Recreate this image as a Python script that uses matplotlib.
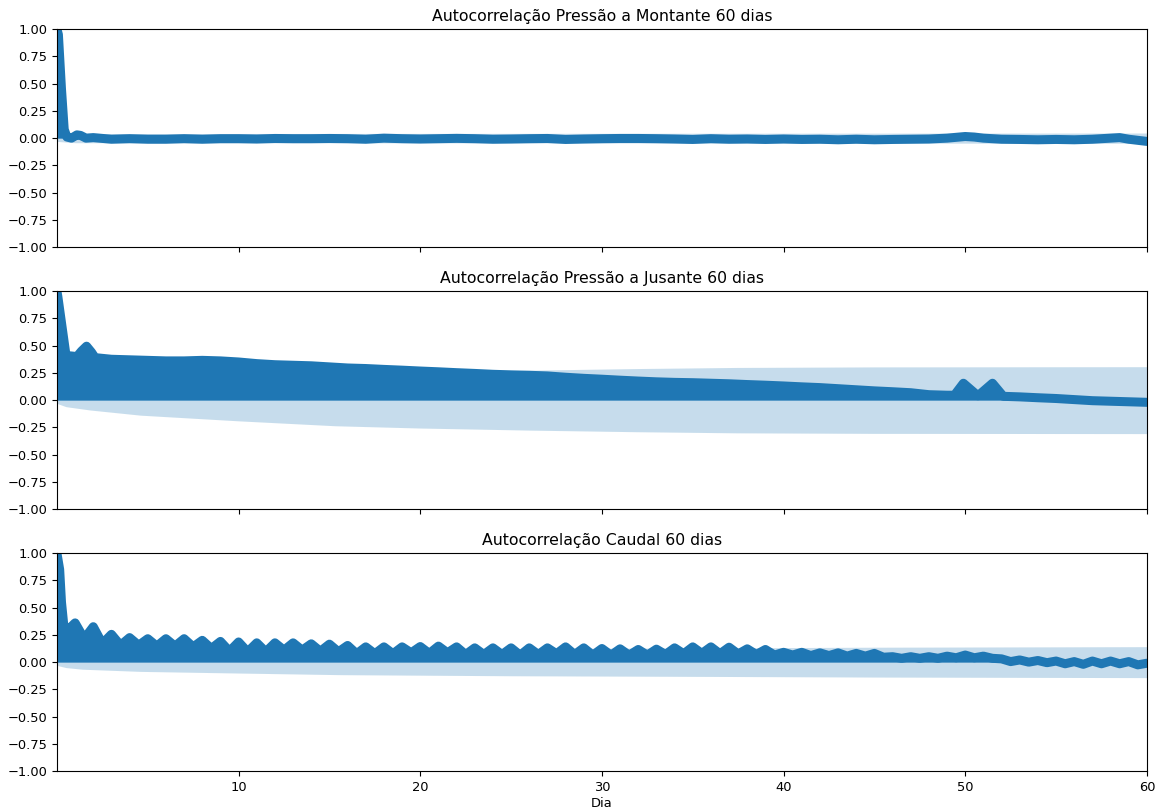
import matplotlib.pyplot as plt
import numpy as np

plt.rcParams['font.size'] = 9.4

# lags in days and autocorrelation values read per series
montante_lag = [0, 0.08, 0.25, 0.4, 0.55, 0.8, 1.1, 1.3, 1.6, 2, 3, 4, 5, 6, 7, 8, 9, 10,
                11, 12, 13, 14, 15, 16, 17, 18, 19, 20, 21, 22, 23, 24, 25, 26, 27, 28,
                29, 30, 31, 32, 33, 34, 35, 36, 37, 38, 39, 40, 41, 42, 43, 44, 45, 46,
                47, 48, 49, 50, 50.5, 51, 52, 53, 54, 55, 56, 57, 58, 58.5, 59, 60]
montante_acf = [1.0, 0.95, 0.45, 0.08, 0.01, 0.0, 0.03, 0.025, 0.0, 0.005, -0.01, -0.005,
                -0.01, -0.01, -0.005, -0.01, -0.005, -0.005, -0.008, -0.003, -0.005, -0.005,
                -0.003, -0.005, -0.01, 0.0, -0.005, -0.008, -0.005, -0.002, -0.005, -0.01,
                -0.008, -0.005, -0.003, -0.012, -0.008, -0.005, -0.003, -0.003, -0.005,
                -0.008, -0.012, -0.005, -0.01, -0.008, -0.012, -0.008, -0.012, -0.01, -0.015,
                -0.01, -0.015, -0.012, -0.01, -0.008, 0.0, 0.015, 0.01, 0.0, -0.01, -0.012,
                -0.015, -0.012, -0.015, -0.01, 0.0, 0.005, -0.01, -0.03]
montante_conf_lag = [0, 1, 60]
montante_conf = [0.03, 0.042, 0.047]

jusante_lag = [0, 0.05, 0.5, 1.1, 1.35, 1.63, 1.9, 2.1, 3, 4, 5, 6, 7, 8, 9, 10, 11, 12,
               13, 14, 15, 16, 17, 18, 19, 20, 21, 22, 23, 24, 25, 26, 27, 28, 29, 30, 31,
               32, 33, 34, 35, 36, 37, 38, 39, 40, 41, 42, 43, 44, 45, 46, 47, 48, 49,
               49.4, 49.9, 50.7, 51.5, 52.1, 53, 54, 55, 56, 57, 58, 59, 60]
jusante_acf = [1.0, 0.95, 0.41, 0.40, 0.45, 0.495, 0.44, 0.39, 0.375, 0.37, 0.365, 0.36,
               0.36, 0.365, 0.36, 0.35, 0.335, 0.325, 0.32, 0.315, 0.305, 0.295, 0.29,
               0.282, 0.275, 0.267, 0.26, 0.252, 0.245, 0.237, 0.232, 0.228, 0.222, 0.21,
               0.2, 0.192, 0.183, 0.175, 0.168, 0.163, 0.16, 0.155, 0.15, 0.143, 0.137,
               0.13, 0.122, 0.115, 0.105, 0.095, 0.085, 0.077, 0.068, 0.05, 0.045, 0.045,
               0.155, 0.04, 0.155, 0.035, 0.03, 0.022, 0.015, 0.005, -0.005, -0.01,
               -0.015, -0.02]
jusante_conf_lag = [0, 0.5, 1.8, 4.6, 10, 15.3, 20, 26, 32, 37.4, 45, 60]
jusante_conf = [0.03, 0.06, 0.09, 0.138, 0.19, 0.235, 0.256, 0.275, 0.29, 0.30, 0.305, 0.307]

# caudal: start of decay, then daily maxima (whole days) and minima (half days)
caudal_start_lag = [0, 0.08, 0.15, 0.25, 0.4]
caudal_start_acf = [1.0, 0.92, 0.85, 0.55, 0.3]
caudal_peak = [0.36, 0.325, 0.255, 0.225, 0.215, 0.215, 0.215, 0.20, 0.19, 0.185,
               0.177, 0.177, 0.177, 0.168, 0.165, 0.153, 0.14, 0.14, 0.14, 0.143,
               0.147, 0.14, 0.131, 0.131, 0.131, 0.131, 0.131, 0.14, 0.131, 0.125,
               0.122, 0.116, 0.119, 0.131, 0.14, 0.14, 0.137, 0.122, 0.116, 0.09,
               0.09, 0.085, 0.085, 0.08, 0.08, 0.05, 0.05, 0.05, 0.055, 0.065,
               0.055, 0.03, 0.02, 0.015, 0.01, 0.005, 0.01, 0.01, 0.005, -0.01]
caudal_valley = [0.28, 0.215, 0.17, 0.155, 0.155, 0.147, 0.147, 0.14, 0.125, 0.10,
                 0.095, 0.095, 0.11, 0.11, 0.10, 0.095, 0.077, 0.077, 0.077, 0.086,
                 0.08, 0.086, 0.07, 0.07, 0.07, 0.064, 0.07, 0.077, 0.07, 0.064,
                 0.064, 0.064, 0.064, 0.07, 0.077, 0.08, 0.077, 0.075, 0.07, 0.065,
                 0.065, 0.06, 0.06, 0.055, 0.055, 0.045, 0.035, 0.035, 0.035, 0.04,
                 0.04, 0.035, 0.005, 0.0, -0.005, -0.015, -0.02, -0.015, -0.015, -0.025]
caudal_conf_lag = [0, 0.5, 1.4, 4.6, 10, 15.6, 25, 37.4, 45, 60]
caudal_conf = [0.03, 0.05, 0.065, 0.085, 0.1, 0.115, 0.125, 0.132, 0.137, 0.142]

titles = ["Autocorrelação Pressão a Montante 60 dias",
          "Autocorrelação Pressão a Jusante 60 dias",
          "Autocorrelação Caudal 60 dias"]

# assemble caudal series in lag order
peak_days = np.arange(1, len(caudal_peak) + 1)
valley_days = np.arange(len(caudal_valley)) + 0.5
caudal_lag = np.concatenate([caudal_start_lag, valley_days, peak_days])
caudal_acf = np.concatenate([caudal_start_acf, caudal_valley, caudal_peak])
order = np.argsort(caudal_lag, kind="stable")
caudal_lag = caudal_lag[order]
caudal_acf = caudal_acf[order]

series = [
    (montante_lag, montante_acf, montante_conf_lag, montante_conf),
    (jusante_lag, jusante_acf, jusante_conf_lag, jusante_conf),
    (caudal_lag, caudal_acf, caudal_conf_lag, caudal_conf),
]

fig, axes = plt.subplots(3, 1, sharex=True, figsize=(11.62, 8.1))
fig.subplots_adjust(left=0.049, right=0.987, top=0.964, bottom=0.048, hspace=0.202)

for ax, (lag, acf, clag, conf), title in zip(axes, series, titles):
    lag = np.asarray(lag, dtype=float)
    acf = np.asarray(acf, dtype=float)
    clag = np.asarray(clag, dtype=float)
    conf = np.asarray(conf, dtype=float)
    # confidence band
    ax.fill_between(clag, -conf, conf, color="C0", alpha=0.25, linewidth=0)
    # stems
    ax.fill_between(lag, 0, acf, color="C0", linewidth=0)
    # marker trace
    ax.plot(lag, acf, color="C0", linewidth=6.5,
            solid_joinstyle="round", solid_capstyle="round")
    ax.set_title(title, fontsize=11.3)
    ax.set_ylim(-1, 1)
    ax.set_yticks(np.arange(-1, 1.01, 0.25))
    ax.set_xlim(0, 60)

axes[-1].set_xticks([10, 20, 30, 40, 50, 60])
axes[-1].set_xlabel("Dia", labelpad=2)

plt.savefig("out.png", dpi=100)
